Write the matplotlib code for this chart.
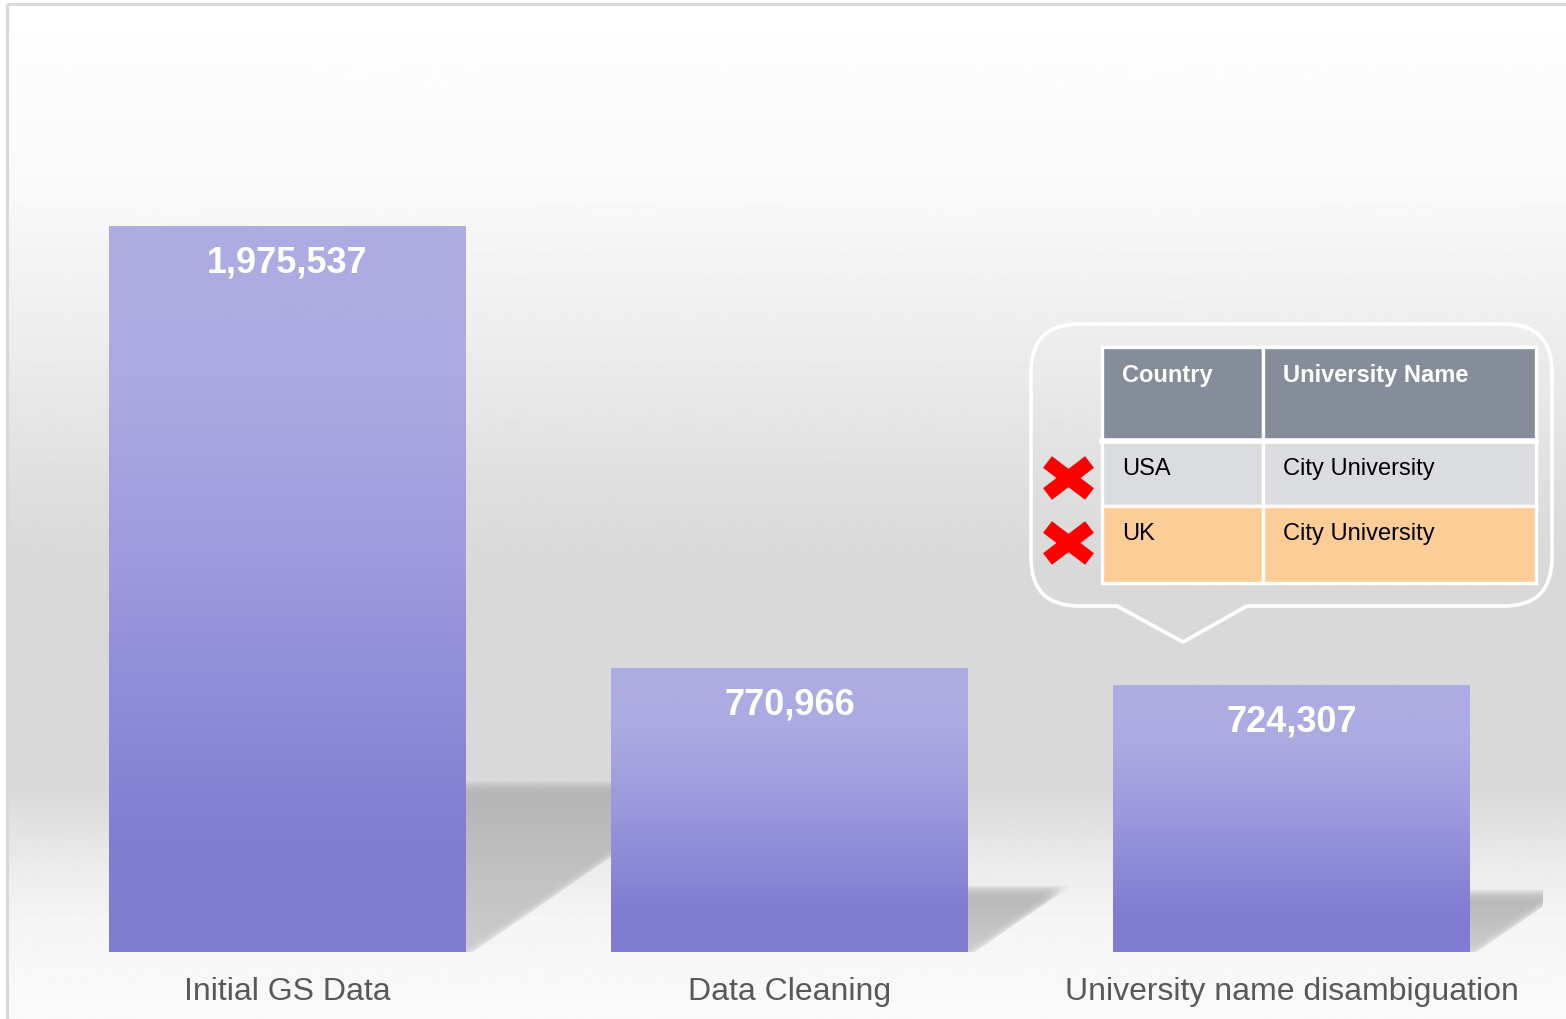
import numpy as np
import matplotlib
matplotlib.use('Agg')
import matplotlib.pyplot as plt
from matplotlib.colors import LinearSegmentedColormap
from matplotlib.patches import Polygon, Rectangle, PathPatch
from matplotlib.path import Path

plt.rcParams['font.family'] = ['Liberation Sans', 'DejaVu Sans']

# data
categories = ['Initial GS Data', 'Data Cleaning', 'University name disambiguation']
values = [1975537, 770966, 724307]
value_labels = ['1,975,537', '770,966', '724,307']

table_header = ['Country', 'University Name']
table_rows = [['USA', 'City University'], ['UK', 'City University']]

W, H = 1566, 1020
fig = plt.figure(figsize=(W / 100, H / 100), dpi=100)

# background (pixel coords)
ax_bg = fig.add_axes([0, 0, 1, 1], zorder=0)
ax_bg.set_xlim(0, W)
ax_bg.set_ylim(H, 0)
ax_bg.axis('off')
yy = np.arange(H)
gray = np.interp(yy, [5, 200, 360, 490, 560, 790, 860, 915, 1020],
                 [255, 248, 235, 222, 217, 217, 234, 244, 250]) / 255.0
bg = np.repeat(gray[:, None], 2, axis=1)
ax_bg.imshow(bg, cmap='gray', vmin=0, vmax=1, extent=[7, W + 5, H, 5], aspect='auto')
ax_bg.add_patch(Rectangle((7, 5), W, H, fill=False, ec='#d9d9d9', lw=2.2))

# main chart
ax_left, ax_right = 36.5, 1542.5
ax = fig.add_axes([ax_left / W, (H - 953) / H, (ax_right - ax_left) / W, (953 - 5) / H], zorder=1)
ax.set_facecolor('none')
ax.set_xlim(-0.5, 2.5)
ax.set_ylim(0, 2.58e6)
for s in ax.spines.values():
    s.set_visible(False)
ax.set_yticks([])
ax.set_xticks(range(len(categories)), labels=categories, fontsize=23, color='#595959')
ax.tick_params(axis='x', length=0, pad=17)

bar_cmap = LinearSegmentedColormap.from_list('bar', [
    (0.0, '#7f7cd2'), (0.15, '#807dd3'), (0.55, '#9e9bde'), (0.8, '#acaae2'), (1.0, '#aeade2')])
width = 0.71
px_per_val = (953 - 5) / 2.58e6
px_per_cat = (ax_right - ax_left) / 3.0
grad = np.linspace(0, 1, 256)[:, None]

for i, v in enumerate(values):
    xl, xr = i - width / 2, i + width / 2
    # floor shadow, softened by stacking shifted copies
    dy = 0.235 * v
    dx = 0.25 * v / 1e6
    n = 200
    t = np.linspace(0, 1, n)  # 0 bottom, 1 top
    g = 0.80 - 0.10 * t
    ramp = 15 / (dy * px_per_val)
    alpha = np.clip((1 - t) / ramp, 0, 1) * 0.5
    sh = np.zeros((n, 2, 4))
    sh[:, :, 0] = g[:, None]
    sh[:, :, 1] = g[:, None]
    sh[:, :, 2] = g[:, None]
    sh[:, :, 3] = alpha[:, None]
    for off in np.linspace(-7, 7, 5) / px_per_cat:
        poly = Polygon([(xl, 0), (xr + off, 0), (xr + dx + off, dy), (xl + dx, dy)], closed=True,
                       fc='none', ec='none', transform=ax.transData)
        ax.add_patch(poly)
        im = ax.imshow(sh, origin='lower', extent=[xl, xr + dx + 0.05, 0, dy], aspect='auto',
                       zorder=1, interpolation='bilinear')
        im.set_clip_path(poly)

bars = ax.bar(range(len(values)), values, width=width, color='none', zorder=2)
for b, v, lab in zip(bars, values, value_labels):
    x0 = b.get_x()
    ax.imshow(grad, origin='lower', cmap=bar_cmap, extent=[x0, x0 + width, 0, v],
              aspect='auto', zorder=2)
    ax.annotate(lab, xy=(b.get_x() + width / 2, v), xytext=(0, -45),
                textcoords='offset pixels', ha='center', va='baseline',
                fontsize=26, fontweight='bold', color='white', zorder=3)
ax.set_xlim(-0.5, 2.5)
ax.set_ylim(0, 2.58e6)

# callout (pixel coords)
ax_top = fig.add_axes([0, 0, 1, 1], zorder=2)
ax_top.set_facecolor('none')
ax_top.set_xlim(0, W)
ax_top.set_ylim(H, 0)
ax_top.axis('off')

x0, x1, y0, y1, r = 1031, 1552, 325, 607, 48
verts = [(x0 + r, y0), (x1 - r, y0), (x1, y0), (x1, y0 + r), (x1, y1 - r), (x1, y1), (x1 - r, y1),
         (1247, y1), (1183, 643), (1117, y1), (x0 + r, y1), (x0, y1), (x0, y1 - r),
         (x0, y0 + r), (x0, y0), (x0 + r, y0), (x0 + r, y0)]
codes = [Path.MOVETO, Path.LINETO, Path.CURVE3, Path.CURVE3, Path.LINETO, Path.CURVE3, Path.CURVE3,
         Path.LINETO, Path.LINETO, Path.LINETO, Path.LINETO, Path.CURVE3, Path.CURVE3,
         Path.LINETO, Path.CURVE3, Path.CURVE3, Path.CLOSEPOLY]
ax_top.add_patch(PathPatch(Path(verts, codes), fc='none', ec='white', lw=2.6))

# table
col_x = [1102, 1263, 1536]
row_y = [348, 442, 507, 584]
row_fc = ['#858c9a', '#dbdcdf', '#fdcd97']
for ri in range(3):
    for ci in range(2):
        ax_top.add_patch(Rectangle((col_x[ci], row_y[ri]), col_x[ci + 1] - col_x[ci],
                                   row_y[ri + 1] - row_y[ri], fc=row_fc[ri], ec='white', lw=2.4))
ax_top.plot([col_x[0], col_x[2]], [row_y[1], row_y[1]], color='white', lw=4)
text_base = [382, 475, 540]
cells = [table_header] + table_rows
for ri, row in enumerate(cells):
    for ci, txt in enumerate(row):
        ax_top.text(col_x[ci] + 20, text_base[ri], txt, fontsize=17, va='baseline', ha='left',
                    color='white' if ri == 0 else 'black',
                    fontweight='bold' if ri == 0 else 'normal')

# red crosses
for cy in [479, 544]:
    cx = 1068.5
    ax_top.plot([cx - 21, cx + 21], [cy - 16, cy + 16], color='red', lw=10.5, solid_capstyle='butt')
    ax_top.plot([cx - 21, cx + 21], [cy + 16, cy - 16], color='red', lw=10.5, solid_capstyle='butt')

fig.savefig('out.png', dpi=100)
